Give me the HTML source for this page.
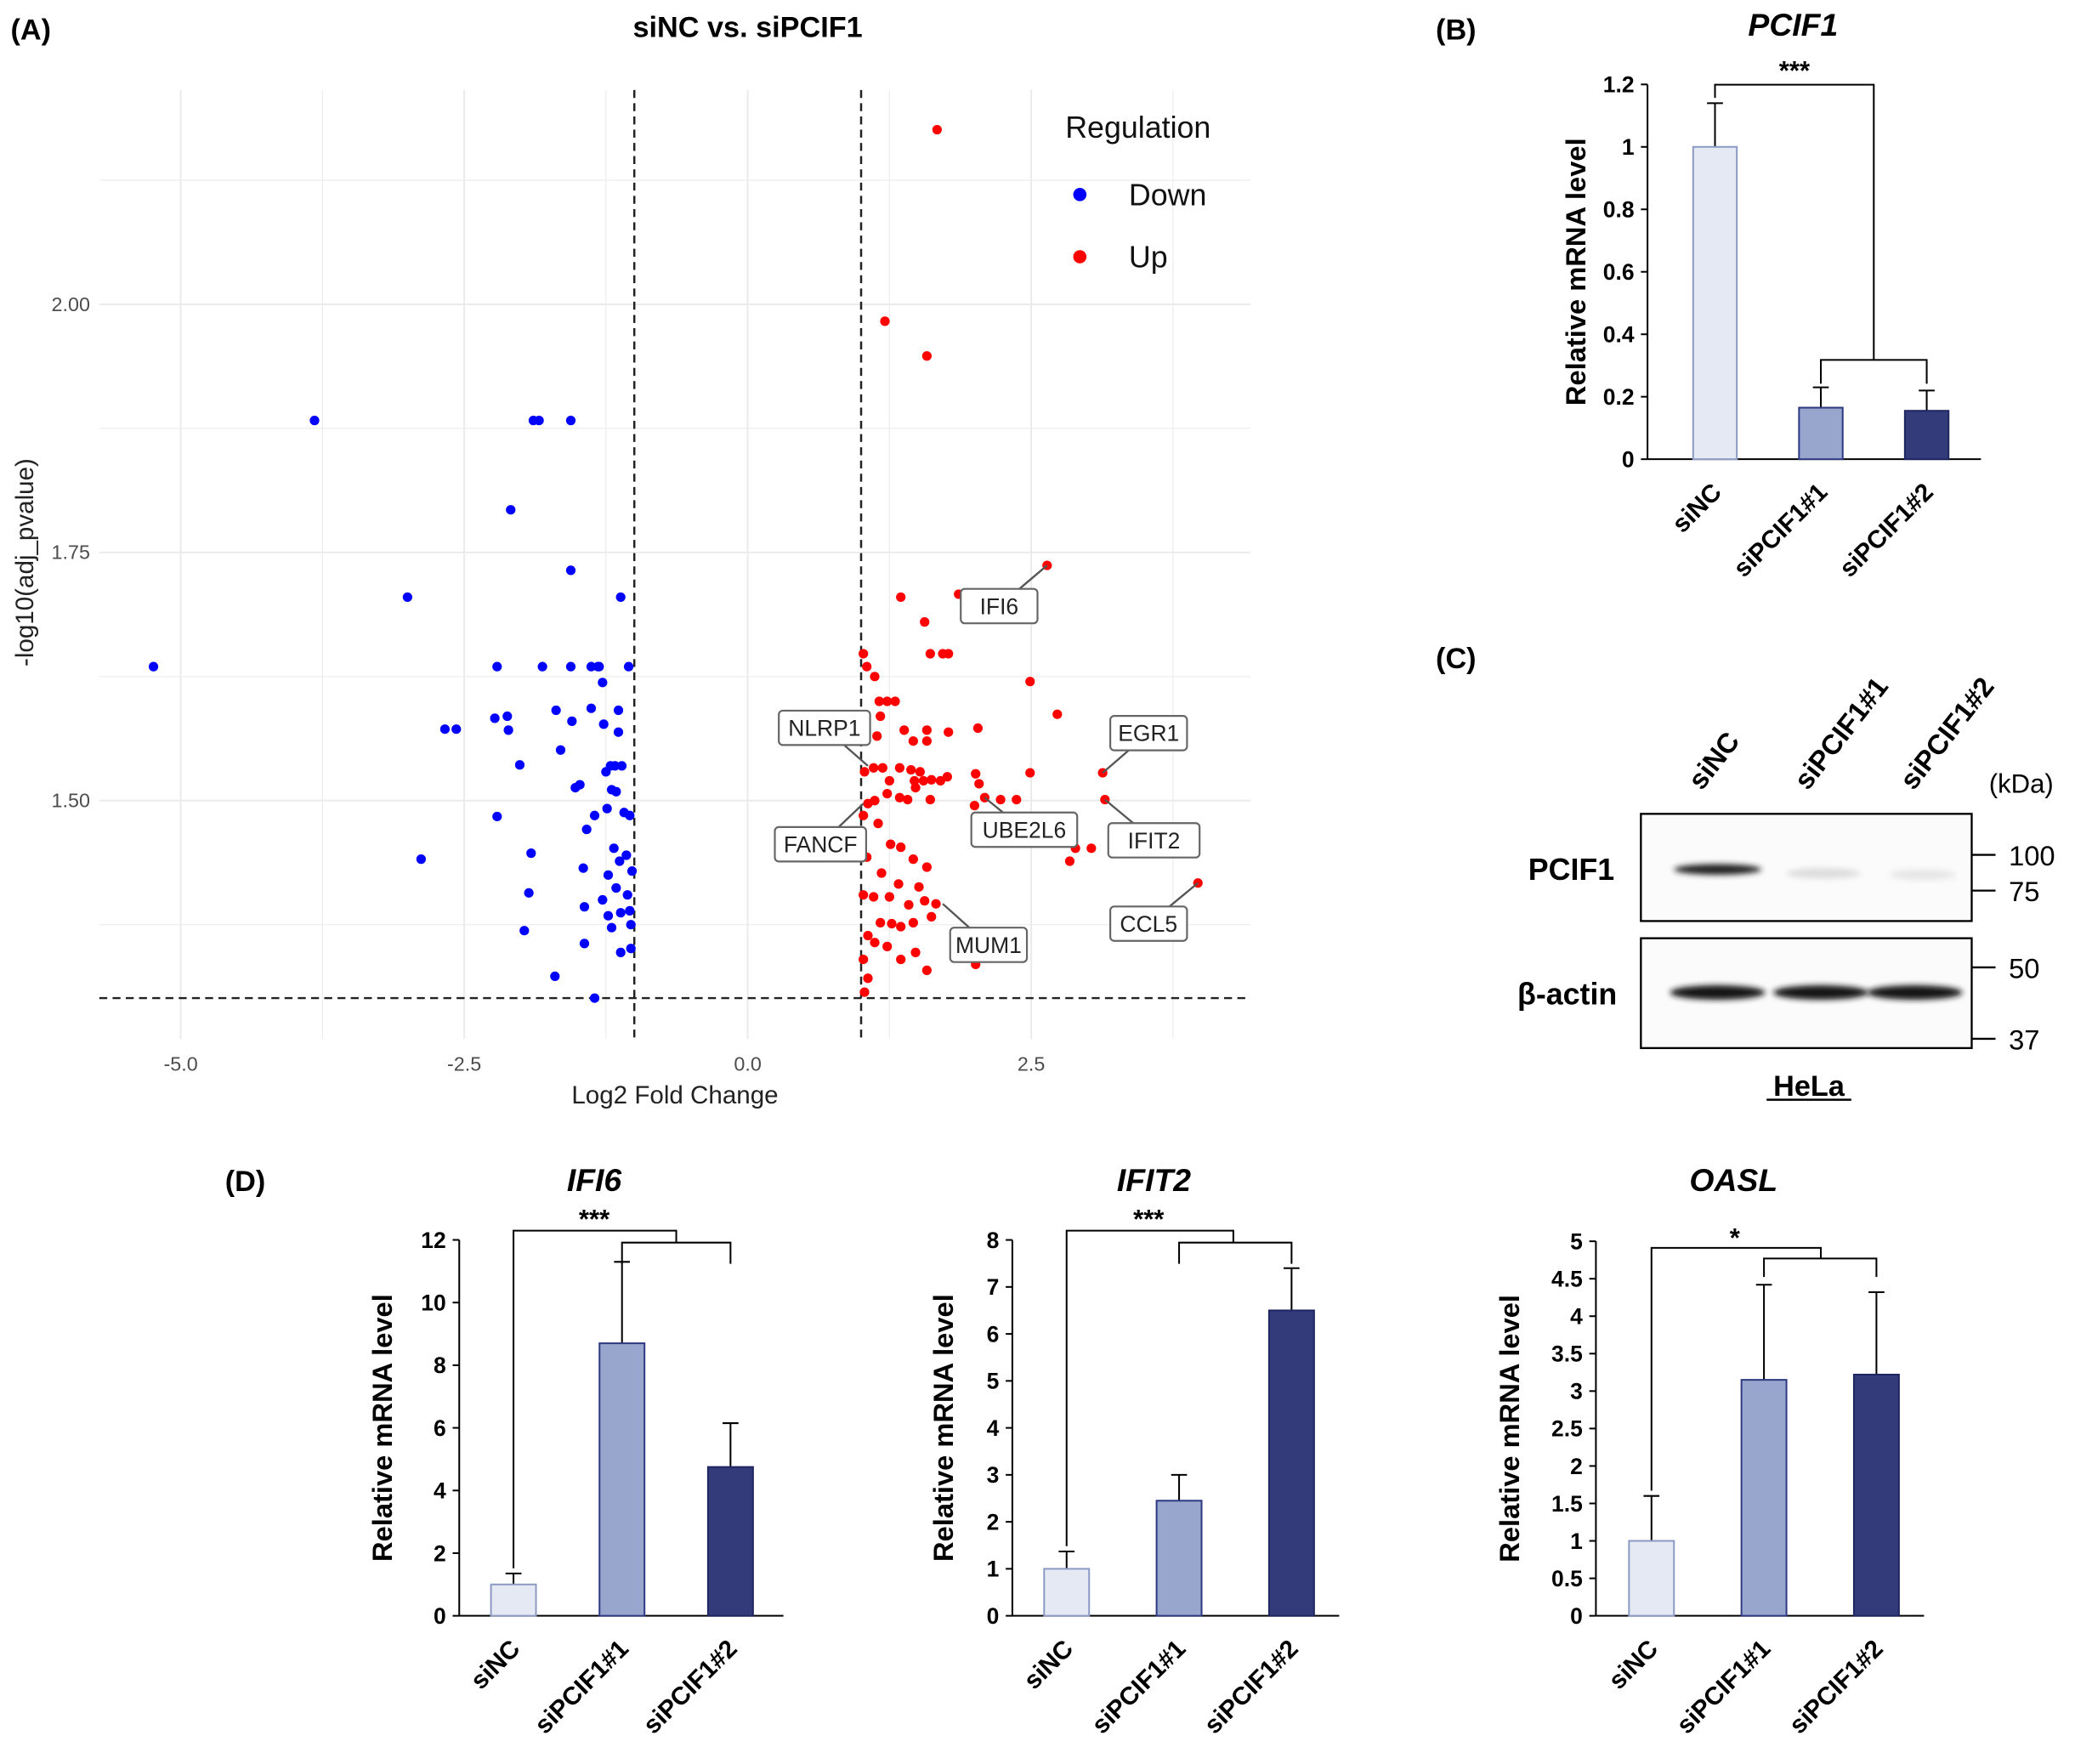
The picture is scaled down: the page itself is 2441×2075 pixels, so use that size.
<!DOCTYPE html>
<html><head><meta charset="utf-8"><style>
html,body{margin:0;padding:0;background:#fff;}
svg{display:block;font-family:"Liberation Sans",Arial,sans-serif;}
</style></head><body>
<svg id="fig" width="2441" height="2075" viewBox="0 0 1568 1333" xmlns="http://www.w3.org/2000/svg">
<defs><filter id="blur" x="-20%" y="-100%" width="140%" height="300%"><feGaussianBlur stdDeviation="2.2"/></filter></defs>
</svg>
<script>
// ---------- Volcano data ----------
const downX=[-5.24,-3.82,-3.00,-2.88,-2.67,-2.57,-2.21,-2.23,-2.12,-2.11,-2.21,-2.09,-2.01,-1.91,-1.93,-1.97,-1.89,-1.84,-1.56,-1.81,-1.69,-1.65,-1.56,-1.55,-1.56,-1.52,-1.48,-1.45,-1.44,-1.44,-1.42,-1.38,-1.38,-1.35,-1.32,-1.31,-1.28,-1.27,-1.25,-1.24,-1.23,-1.21,-1.20,-1.20,-1.18,-1.17,-1.16,-1.16,-1.14,-1.13,-1.12,-1.12,-1.12,-1.11,-1.09,-1.07,-1.05,-1.04,-1.04,-1.02,-1.03,-1.03,-1.70,-1.35,-1.23,-1.28,-1.14,-1.06];
const downY=[1.635,1.883,1.705,1.441,1.572,1.572,1.635,1.583,1.585,1.571,1.484,1.793,1.536,1.447,1.407,1.369,1.883,1.883,1.883,1.635,1.591,1.551,1.635,1.580,1.732,1.513,1.516,1.432,1.393,1.356,1.471,1.635,1.593,1.485,1.635,1.635,1.619,1.577,1.529,1.492,1.384,1.535,1.511,1.372,1.452,1.535,1.412,1.509,1.591,1.439,1.705,1.387,1.347,1.535,1.488,1.445,1.635,1.485,1.389,1.429,1.375,1.351,1.323,1.301,1.425,1.400,1.569,1.405];
const upX=[1.67,1.21,1.58,2.64,1.35,1.86,1.56,1.61,1.72,1.77,1.02,1.05,1.12,2.49,1.16,1.23,1.30,1.17,2.73,1.38,1.58,1.77,2.03,1.14,1.03,1.11,1.19,1.25,1.34,1.44,1.47,1.52,1.55,1.62,1.70,1.76,2.01,2.04,2.49,3.13,1.06,1.12,1.23,1.34,1.41,1.48,1.61,2.00,2.09,2.23,2.37,3.15,2.89,3.03,2.84,1.02,1.15,1.26,1.35,1.46,1.58,1.05,1.18,1.33,1.51,1.02,1.11,1.25,1.42,1.56,1.66,1.17,1.27,1.35,1.46,1.62,1.06,1.12,1.23,1.35,1.48,1.58,2.01,1.02,1.06,1.03,3.97,1.58,1.46];
const upY=[2.176,1.983,1.948,1.737,1.705,1.708,1.680,1.648,1.648,1.648,1.648,1.635,1.625,1.620,1.600,1.600,1.600,1.585,1.587,1.571,1.571,1.569,1.573,1.565,1.529,1.533,1.533,1.520,1.533,1.531,1.520,1.529,1.520,1.521,1.520,1.524,1.527,1.517,1.528,1.528,1.497,1.500,1.507,1.503,1.501,1.513,1.501,1.495,1.503,1.501,1.501,1.501,1.452,1.452,1.439,1.485,1.477,1.456,1.453,1.441,1.433,1.443,1.427,1.416,1.413,1.405,1.403,1.403,1.395,1.399,1.396,1.377,1.376,1.373,1.377,1.383,1.364,1.357,1.353,1.340,1.347,1.329,1.335,1.340,1.321,1.307,1.417,1.560,1.560];
const xTicks=[-5.0,-2.5,0.0,2.5];
const yTicks=[1.50,1.75,2.00];
const geneNames=["IFI6","NLRP1","FANCF","EGR1","UBE2L6","IFIT2","MUM1","CCL5"];
const geneX=[2.64,1.06,1.02,3.13,2.09,3.15,1.72,3.97];
const geneY=[1.737,1.535,1.497,1.528,1.503,1.501,1.396,1.417];
// ---------- bar chart data ----------
const groups=["siNC","siPCIF1#1","siPCIF1#2"];
const pcif1Vals=[1.0,0.165,0.155];const pcif1Err=[0.14,0.065,0.065];
const ifi6Vals=[1.0,8.7,4.75];const ifi6Err=[0.35,2.6,1.4];
const ifit2Vals=[1.0,2.45,6.5];const ifit2Err=[0.37,0.55,0.9];
const oaslVals=[1.0,3.15,3.22];const oaslErr=[0.6,1.27,1.1];
const pcif1Ticks=["0","0.2","0.4","0.6","0.8","1","1.2"];
const ifi6Ticks=["0","2","4","6","8","10","12"];
const ifit2Ticks=["0","1","2","3","4","5","6","7","8"];
const oaslTicks=["0","0.5","1","1.5","2","2.5","3","3.5","4","4.5","5"];

const NS="http://www.w3.org/2000/svg";
const svg=document.getElementById('fig');
function mk(tag,a,parent){const e=document.createElementNS(NS,tag);for(const k in a)e.setAttribute(k,a[k]);(parent||svg).appendChild(e);return e;}
function tx(str,a,parent){const e=mk('text',a,parent);e.textContent=str;return e;}
let el;

// ---------- Panel A ----------
const vx=v=>565+v*85.7, vy=v=>605-(v-1.5)*750;
const PX0=75,PX1=945,PY0=68,PY1=785;
el=tx("(A)",{x:8,y:30,'font-size':22,'font-weight':'bold'});

el=tx("siNC vs. siPCIF1",{x:565,y:28,'font-size':22,'font-weight':'bold','text-anchor':'middle'});

const gA=mk('g',{});

for(let v=-6.25;v<=4.5;v+=1.25){const x=vx(v);if(x<PX0||x>PX1)continue;
 el=mk('line',{x1:x,x2:x,y1:PY0,y2:PY1,stroke:'#ebebeb','stroke-width':Math.abs(v%2.5)<0.01?1.3:0.7},gA);
 }
for(let v=1.25;v<=2.3;v+=0.125){const y=vy(v);if(y<PY0||y>PY1)continue;
 el=mk('line',{x1:PX0,x2:PX1,y1:y,y2:y,stroke:'#ebebeb','stroke-width':Math.abs((v*4)%1)<0.01?1.3:0.7},gA);
 }
xTicks.forEach(t=>{el=tx(t.toFixed(1),{x:vx(t),y:809,'font-size':15,fill:'#4d4d4d','text-anchor':'middle'},gA);
 });
yTicks.forEach(t=>{el=tx(t.toFixed(2),{x:68,y:vy(t)+5,'font-size':15,fill:'#4d4d4d','text-anchor':'end'},gA);
 });
el=tx("Log2 Fold Change",{x:510,y:834,'font-size':19,fill:'#222','text-anchor':'middle'},gA);

el=tx("-log10(adj_pvalue)",{x:0,y:0,'font-size':19,fill:'#222','text-anchor':'middle',transform:'translate(25,425) rotate(-90)'},gA);

[[vx(-1),vx(-1),PY0,PY1],[vx(1),vx(1),PY0,PY1],[PX0,PX1,vy(1.30103),vy(1.30103)]].forEach(c=>{
 el=mk('line',{x1:c[0],x2:c[1],y1:c[2],y2:c[3],stroke:'#222','stroke-width':1.6,'stroke-dasharray':'6,4'},gA);
 });
downX.forEach((v,i)=>{el=mk('circle',{cx:vx(v),cy:vy(downY[i]),r:3.6,fill:'#0000ff'},gA);
 });
upX.forEach((v,i)=>{el=mk('circle',{cx:vx(v),cy:vy(upY[i]),r:3.6,fill:'#ff0000'},gA);
 });
const boxPos=[[755,458],[623,550],[620,638],[868,554],[774,627],[872,635],[747,714],[868,698]];
geneNames.forEach((g,i)=>{const px=vx(geneX[i]),py=vy(geneY[i]);const bx=boxPos[i][0],by=boxPos[i][1];
 const w=g.length*11+14;
 el=mk('line',{x1:px,y1:py,x2:bx,y2:by,stroke:'#555','stroke-width':1.5},gA);
 
 el=mk('rect',{x:bx-w/2,y:by-13,width:w,height:26,rx:3,fill:'#fff',stroke:'#666','stroke-width':1.4},gA);
 
 el=tx(g,{x:bx,y:by+6,'font-size':17,fill:'#222','text-anchor':'middle'},gA);
 });
el=tx("Regulation",{x:805,y:104,'font-size':23,fill:'#111'});

el=mk('circle',{cx:816,cy:147,r:5,fill:'#0000ff'});

el=tx("Down",{x:853,y:155,'font-size':23,fill:'#111'});

el=mk('circle',{cx:816,cy:194,r:5,fill:'#ff0000'});

el=tx("Up",{x:853,y:202,'font-size':23,fill:'#111'});


// ---------- Bar chart helper ----------
const fills=['#e4e9f3','#98a6cd','#333b7b'],strokes=['#8d9bc4','#2e3a82','#1f2660'];
function barChart(o){
 const g=mk('g',{});
 
 const sy=v=>o.y0-v*o.ppu;
 el=tx(o.title,{x:o.tx,y:o.ty,'font-size':24,'font-weight':'bold','font-style':'italic','text-anchor':'middle'},g);
 
 el=mk('line',{x1:o.ax,x2:o.ax,y1:o.y0,y2:sy(o.max),stroke:'#000','stroke-width':1.3},g);
 
 el=mk('line',{x1:o.ax,x2:o.axEnd,y1:o.y0,y2:o.y0,stroke:'#000','stroke-width':1.3},g);
 
 o.ticks.forEach(t=>{const y=sy(parseFloat(t));
  el=mk('line',{x1:o.ax-5,x2:o.ax,y1:y,y2:y,stroke:'#000','stroke-width':1.3},g);
  
  el=tx(t,{x:o.ax-10,y:y+6,'font-size':17,'font-weight':'bold','text-anchor':'end'},g);
  });
 el=tx("Relative mRNA level",{x:0,y:0,'font-size':21,'font-weight':'bold','text-anchor':'middle',transform:`translate(${o.ytx},${o.y0-o.max*o.ppu/2}) rotate(-90)`},g);
 
 const cx=[];
 o.vals.forEach((v,i)=>{const c=o.x0+i*o.step;cx.push(c);const bw=o.bw;
  el=mk('line',{x1:c,x2:c,y1:sy(v),y2:sy(v+o.err[i]),stroke:'#000','stroke-width':1.3},g);
  
  el=mk('line',{x1:c-6,x2:c+6,y1:sy(v+o.err[i]),y2:sy(v+o.err[i]),stroke:'#000','stroke-width':1.3},g);
  
  el=mk('rect',{x:c-bw/2,y:sy(v),width:bw,height:v*o.ppu,fill:fills[i],stroke:strokes[i],'stroke-width':1.3},g);
  
  el=tx(groups[i],{x:0,y:0,'font-size':19,'font-weight':'bold','text-anchor':'end',transform:`translate(${c+6},${o.y0+26}) rotate(-45)`},g);
  });
 const b=o.br;
 el=mk('polyline',{points:`${cx[0]},${sy(o.vals[0]+o.err[0])-4} ${cx[0]},${b.y1} ${b.mid},${b.y1} ${b.mid},${b.y2}`,fill:'none',stroke:'#000','stroke-width':1.3},g);
 
 el=mk('polyline',{points:`${cx[1]},${b.y3} ${cx[1]},${b.y2} ${cx[2]},${b.y2} ${cx[2]},${b.y3}`,fill:'none',stroke:'#000','stroke-width':1.3},g);
 
 el=tx(o.star,{x:b.sx,y:b.sy,'font-size':20,'font-weight':'bold','text-anchor':'middle'},g);
 
}

// ---------- Panel B ----------
el=tx("(B)",{x:1085,y:30,'font-size':22,'font-weight':'bold'});

barChart({name:'pcif1-bar-chart',title:'PCIF1',tx:1355,ty:27,ax:1245,axEnd:1497,y0:347,ppu:236,max:1.2,ticks:pcif1Ticks,
 vals:pcif1Vals,err:pcif1Err,x0:1296,step:80,bw:33,ytx:1198,
 br:{y1:64,mid:1416,y2:272,y3:290,sx:1356,sy:60},star:'***'});

// ---------- Panel C ----------
el=tx("(C)",{x:1085,y:505,'font-size':22,'font-weight':'bold'});

const lanes=[["siNC",1296],["siPCIF1#1",1376],["siPCIF1#2",1456]];
lanes.forEach(l=>{el=tx(l[0],{x:0,y:0,'font-size':21,'font-weight':'bold',transform:`translate(${l[1]-10},${598}) rotate(-52)`});
 });
el=tx("(kDa)",{x:1503,y:599,'font-size':20});

el=mk('rect',{x:1240,y:615,width:250,height:81,fill:'#fbfbfb',stroke:'#000','stroke-width':1.5});

el=mk('rect',{x:1240,y:709,width:250,height:83,fill:'#fbfbfb',stroke:'#000','stroke-width':1.5});

el=mk('ellipse',{cx:1298,cy:657,rx:33,ry:4,fill:'#222',filter:'url(#blur)'});

el=mk('ellipse',{cx:1378,cy:660,rx:28,ry:4,fill:'#ddd',filter:'url(#blur)'});

el=mk('ellipse',{cx:1453,cy:661,rx:25,ry:4,fill:'#e6e6e6',filter:'url(#blur)'});

[1298,1376,1447].forEach(c=>{el=mk('ellipse',{cx:c,cy:750,rx:36,ry:5.5,fill:'#151515',filter:'url(#blur)'});
 });
el=tx("PCIF1",{x:1220,y:665,'font-size':23,'font-weight':'bold','text-anchor':'end'});

el=tx("β-actin",{x:1222,y:759,'font-size':23,'font-weight':'bold','text-anchor':'end'});

[["100",646],["75",673],["50",731],["37",785]].forEach(m=>{
 el=mk('line',{x1:1490,x2:1508,y1:m[1],y2:m[1],stroke:'#000','stroke-width':1.5});
 
 el=tx(m[0],{x:1518,y:m[1]+8,'font-size':21});
 });
el=tx("HeLa",{x:1367,y:828,'font-size':22,'font-weight':'bold','text-anchor':'middle'});

el=mk('line',{x1:1335,x2:1399,y1:831,y2:831,stroke:'#000','stroke-width':1.6});


// ---------- Panel D ----------
el=tx("(D)",{x:170,y:900,'font-size':22,'font-weight':'bold'});

barChart({name:'ifi6-bar-chart',title:'IFI6',tx:449,ty:900,ax:347,axEnd:592,y0:1221,ppu:23.67,max:12,ticks:ifi6Ticks,
 vals:ifi6Vals,err:ifi6Err,x0:388,step:82,bw:34,ytx:296,
 br:{y1:930,mid:511,y2:939,y3:955,sx:449,sy:928},star:'***'});
barChart({name:'ifit2-bar-chart',title:'IFIT2',tx:872,ty:900,ax:765,axEnd:1012,y0:1221,ppu:35.5,max:8,ticks:ifit2Ticks,
 vals:ifit2Vals,err:ifit2Err,x0:806,step:85,bw:34,ytx:720,
 br:{y1:930,mid:932,y2:939,y3:955,sx:868,sy:928},star:'***'});
barChart({name:'oasl-bar-chart',title:'OASL',tx:1310,ty:900,ax:1206,axEnd:1454,y0:1221,ppu:56.6,max:5,ticks:oaslTicks,
 vals:oaslVals,err:oaslErr,x0:1248,step:85,bw:34,ytx:1148,
 br:{y1:943,mid:1376,y2:951,y3:965,sx:1311,sy:942},star:'*'});
</script>
</body></html>
